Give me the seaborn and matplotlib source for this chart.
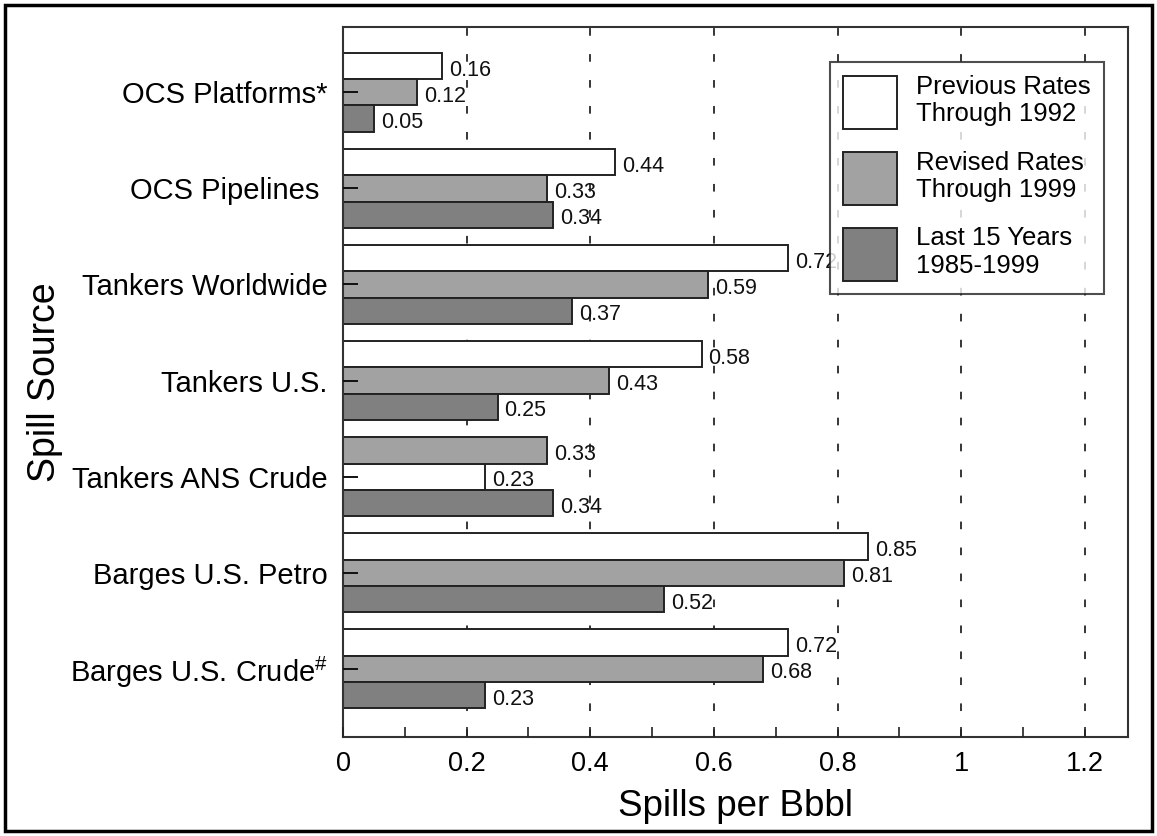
import pandas as pd
import numpy as np
import seaborn as sns
from matplotlib import pyplot as plt
from matplotlib.patches import Rectangle
from matplotlib.ticker import MultipleLocator

# spill rates per billion barrels
sources = ["OCS Platforms*", "OCS Pipelines ", "Tankers Worldwide", "Tankers U.S.",
           "Tankers ANS Crude", "Barges U.S. Petro", "Barges U.S. Crude$^{\\#}$"]
previous = [0.16, 0.44, 0.72, 0.58, 0.23, 0.85, 0.72]
revised = [0.12, 0.33, 0.59, 0.43, 0.33, 0.81, 0.68]
last15 = [0.05, 0.34, 0.37, 0.25, 0.34, 0.52, 0.23]
series = ["Previous Rates\nThrough 1992", "Revised Rates\nThrough 1999", "Last 15 Years\n1985-1999"]
colors = ["#FFFFFF", "#A2A2A2", "#808080"]
x_ticks = [0, 0.2, 0.4, 0.6, 0.8, 1.0, 1.2]
x_ticklabels = ["0", "0.2", "0.4", "0.6", "0.8", "1", "1.2"]

df = pd.DataFrame({
    "source": sources * 3,
    "series": np.repeat(series, len(sources)),
    "value": previous + revised + last15,
})

sns.set_theme(style="white")
plt.rcParams["font.family"] = ["Liberation Sans", "DejaVu Sans"]
plt.rcParams["mathtext.fontset"] = "custom"
plt.rcParams["mathtext.rm"] = "Liberation Sans"
plt.rcParams["mathtext.default"] = "regular"
plt.rcParams["text.color"] = "black"
plt.rcParams["axes.labelcolor"] = "black"
plt.rcParams["xtick.color"] = "black"
plt.rcParams["ytick.color"] = "black"

fig = plt.figure(figsize=(11.57, 8.36), dpi=100)
ax = fig.add_axes([0.2965, 0.1184, 0.6785, 0.8493])

# dashed guide lines sit behind the bars
for xv in x_ticks[1:]:
    ax.axvline(xv, color="black", linewidth=1.1, linestyle=(0, (5, 12)), zorder=0.5)

sns.barplot(data=df, x="value", y="source", hue="series", hue_order=series,
            palette=dict(zip(series, colors)), saturation=1, width=0.82,
            edgecolor="#222222", linewidth=1.4, errorbar=None, legend=False,
            orient="h", ax=ax, zorder=1)

# in the original the ANS Crude group has the revised bar on top
ans = sources.index("Tankers ANS Crude")
p0, p1 = ax.containers[0][ans], ax.containers[1][ans]
y0, y1 = p0.get_y(), p1.get_y()
p0.set_y(y1)
p1.set_y(y0)
p1.set_zorder(1.2)

# value labels
for cont, vals in zip(ax.containers, [previous, revised, last15]):
    for patch, v in zip(cont, vals):
        ax.annotate(f"{v:.2f}", (patch.get_width(), patch.get_y() + patch.get_height() / 2),
                    xytext=(5, -3), textcoords="offset points", ha="left", va="center",
                    fontsize=15.5, color="#111111", zorder=4)

ax.set_xlim(0, 1.27)
ax.set_ylim(6.71, -0.68)
ax.set_axisbelow(False)
ax.xaxis.set_minor_locator(MultipleLocator(0.1))
ax.set_xticks(x_ticks)
ax.set_xticklabels(x_ticklabels)
ax.tick_params(axis="x", which="both", direction="in", length=7, width=1.2,
               color="#222222", labelsize=19.5, pad=10, bottom=True)
ax.tick_params(axis="y", direction="in", length=11, width=1.4, color="#111111",
               labelsize=21, pad=11, left=True)
ax.grid(False)

for sp in ax.spines.values():
    sp.set_color("#333333")
    sp.set_linewidth(1.5)

ax.set_xlabel("Spills per Bbbl", fontsize=26.5, labelpad=9)
ax.set_ylabel("Spill Source", fontsize=27, labelpad=5)

leg = ax.legend(ax.containers, series, loc="upper right", bbox_to_anchor=(0.969, 0.951),
                borderaxespad=0, fontsize=18.5, frameon=True, fancybox=False,
                edgecolor="#222222", handlelength=2.1, handleheight=2.8, labelspacing=0.84,
                handletextpad=0.75, borderpad=0.5)
leg.get_frame().set_linewidth(1.5)

fig.patches.append(Rectangle((0.0043, 0.006), 0.9914, 0.988, transform=fig.transFigure,
                             fill=False, linewidth=2.5, edgecolor="black"))

fig.savefig("out.png", dpi=100, facecolor="white")
